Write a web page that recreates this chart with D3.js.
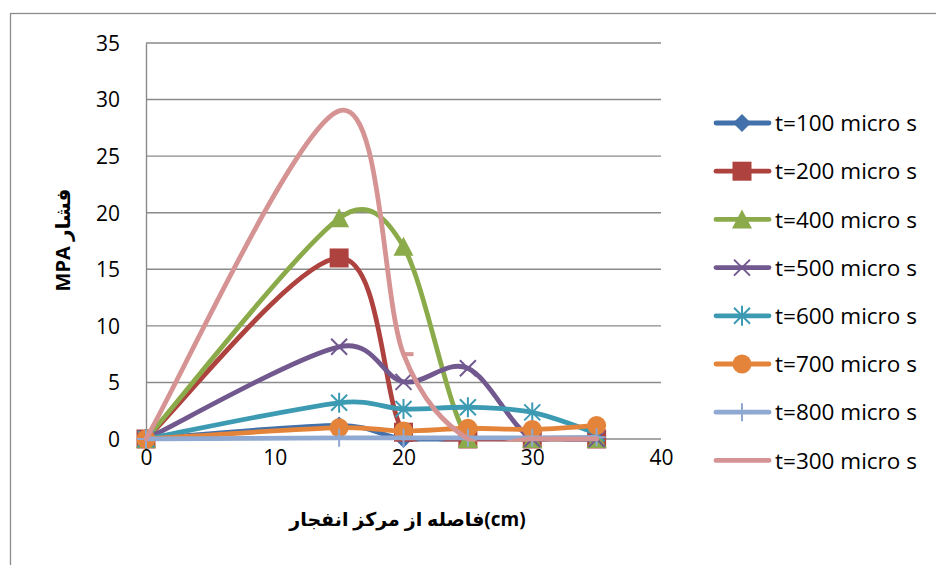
<!DOCTYPE html>
<html>
<head>
<meta charset="utf-8">
<script src="https://cdn.jsdelivr.net/npm/d3@7"></script>
<style>
  html, body { margin: 0; padding: 0; background: #fff; }
  svg { display: block; }
  text { font-family: "Open Sans", "DejaVu Sans", sans-serif; fill: #000; }
</style>
</head>
<body>
<svg id="chart" width="936" height="565"></svg>
<script>
// Distance from the blast centre (cm)
const distances = [0, 15, 20, 25, 30, 35];

// Pressure (MPa) at each distance, one array per time step
const t100 = [0, 1.2, 0, 0, 0, 0];
const t200 = [0, 16, 0.6, 0, 0, 0];
const t400 = [0, 19.5, 17, 0, 0, 0];
const t500 = [0, 8.15, 5.05, 6.25, 0, 0];
const t600 = [0, 3.2, 2.65, 2.8, 2.35, 0.5];
const t700 = [0, 1.0, 0.7, 0.95, 0.85, 1.2];
const t800 = [0, 0.1, 0.1, 0.1, 0.1, 0.15];
const t300 = [0, 29, 7.5, 0, 0, 0];

const seriesNames = [
  "t=100 micro s", "t=200 micro s", "t=400 micro s", "t=500 micro s",
  "t=600 micro s", "t=700 micro s", "t=800 micro s", "t=300 micro s"
];

const xTicks = [0, 10, 20, 30, 40];
const yTicks = [0, 5, 10, 15, 20, 25, 30, 35];

const xTitle = "فاصله از مرکز انفجار(cm)";
const yTitle = "MPA فشار";

const seriesValues = [t100, t200, t400, t500, t600, t700, t800, t300];
const colors = ["#4270AA", "#AE423F", "#8BAA4A", "#71588F", "#3C9BB3", "#E3843A", "#8FA9D2", "#D59393"];
const markers = ["diamond", "square", "triangle", "x", "asterisk", "circle", "plus", "none"];

const series = seriesNames.map((name, i) => ({
  name,
  color: colors[i],
  marker: markers[i],
  points: distances.map((d, j) => ({ x: d, y: seriesValues[i][j] }))
}));

const svg = d3.select("#chart");

// outer chart frame
svg.append("rect")
  .attr("x", 10.5).attr("y", 13.5)
  .attr("width", 960).attr("height", 600)
  .attr("fill", "none").attr("stroke", "#8c8c8c").attr("stroke-width", 1.3);

const plot = { left: 146, right: 661, top: 43, bottom: 439 };

const x = d3.scaleLinear().domain([0, 40]).range([plot.left, plot.right]);
const y = d3.scaleLinear().domain([0, 35]).range([plot.bottom, plot.top]);

// lines are clipped to the plot area; markers are not
svg.append("defs").append("clipPath").attr("id", "plot-clip")
  .append("rect")
  .attr("x", plot.left - 3).attr("y", plot.top - 5)
  .attr("width", plot.right - plot.left + 3)
  .attr("height", plot.bottom - plot.top + 7.5);

// horizontal gridlines
svg.append("g")
  .selectAll("line")
  .data(yTicks)
  .join("line")
  .attr("x1", plot.left).attr("x2", plot.right)
  .attr("y1", d => y(d)).attr("y2", d => y(d))
  .attr("stroke", "#8a8a8a").attr("stroke-width", 1.4);

// value axis
const yAxis = d3.axisLeft(y).tickValues(yTicks).tickSize(0).tickPadding(26);
const gy = svg.append("g").attr("transform", `translate(${plot.left},0)`).call(yAxis);
gy.select(".domain").attr("stroke", "#8a8a8a").attr("stroke-width", 1.4);
gy.selectAll("text").style("font-size", "21px").attr("dy", "0.35em");

// distance axis
const xAxis = d3.axisBottom(x).tickValues(xTicks).tickSize(0).tickPadding(24);
const gx = svg.append("g").attr("transform", `translate(0,${plot.bottom})`).call(xAxis);
gx.select(".domain").remove();
gx.selectAll("text").style("font-size", "21px").attr("dy", "0.1em");

// axis titles
svg.append("text")
  .attr("x", (plot.left + plot.right) / 2 + 4)
  .attr("y", 526)
  .attr("text-anchor", "middle")
  .style("font-size", "19px").style("font-weight", "bold")
  .text(xTitle);

svg.append("text")
  .attr("transform", "translate(70,240) rotate(-90)")
  .attr("text-anchor", "middle")
  .style("font-size", "20px").style("font-weight", "bold")
  .text(yTitle);

// marker shapes
function drawMarker(g, type, color, cx, cy) {
  const s = 9;
  if (type === "diamond") {
    g.append("path").attr("d", `M${cx},${cy - s}L${cx + s},${cy}L${cx},${cy + s}L${cx - s},${cy}Z`)
      .attr("fill", color);
  } else if (type === "square") {
    g.append("rect").attr("x", cx - 9.5).attr("y", cy - 9.5).attr("width", 19).attr("height", 19)
      .attr("fill", color);
  } else if (type === "triangle") {
    g.append("path").attr("d", `M${cx},${cy - 10}L${cx + 10},${cy + 9}L${cx - 10},${cy + 9}Z`)
      .attr("fill", color);
  } else if (type === "circle") {
    g.append("circle").attr("cx", cx).attr("cy", cy).attr("r", 9.5).attr("fill", color);
  } else if (type === "x") {
    g.append("path").attr("d", `M${cx - 8},${cy - 8}L${cx + 8},${cy + 8}M${cx - 8},${cy + 8}L${cx + 8},${cy - 8}`)
      .attr("stroke", color).attr("stroke-width", 2);
  } else if (type === "asterisk") {
    g.append("path").attr("d",
      `M${cx - 8},${cy - 8}L${cx + 8},${cy + 8}M${cx - 8},${cy + 8}L${cx + 8},${cy - 8}M${cx},${cy - 10}L${cx},${cy + 10}`)
      .attr("stroke", color).attr("stroke-width", 2);
  } else if (type === "plus") {
    g.append("path").attr("d", `M${cx},${cy - 9}L${cx},${cy + 9}M${cx - 9},${cy}L${cx + 9},${cy}`)
      .attr("stroke", color).attr("stroke-width", 2);
  }
}

// Smoothed line: Bezier segments with handles of 1/6 of the neighbour chord,
// each handle capped at half of its own segment length.
function smoothPath(points) {
  const pts = points.map(d => [x(d.x), y(d.y)]);
  const p = d3.path();
  p.moveTo(pts[0][0], pts[0][1]);
  const cap = (v, maxLen) => {
    const len = Math.hypot(v[0], v[1]);
    return len > maxLen && len > 0 ? [v[0] * maxLen / len, v[1] * maxLen / len] : v;
  };
  for (let i = 0; i < pts.length - 1; i++) {
    const p0 = pts[i - 1] || pts[i];
    const p1 = pts[i];
    const p2 = pts[i + 1];
    const p3 = pts[i + 2] || pts[i + 1];
    const half = Math.hypot(p2[0] - p1[0], p2[1] - p1[1]) / 2;
    const t1 = cap([(p2[0] - p0[0]) / 6, (p2[1] - p0[1]) / 6], half);
    const t2 = cap([(p3[0] - p1[0]) / 6, (p3[1] - p1[1]) / 6], half);
    p.bezierCurveTo(p1[0] + t1[0], p1[1] + t1[1], p2[0] - t2[0], p2[1] - t2[1], p2[0], p2[1]);
  }
  return p.toString();
}

const seriesLayer = svg.append("g");
series.forEach(s => {
  const g = seriesLayer.append("g");
  g.append("path")
    .attr("d", smoothPath(s.points))
    .attr("clip-path", "url(#plot-clip)")
    .attr("fill", "none")
    .attr("stroke", s.color)
    .attr("stroke-width", 4.8)
    .attr("stroke-linecap", "round")
    .attr("stroke-linejoin", "round");
  s.points.forEach(p => drawMarker(g, s.marker, s.color, x(p.x), y(p.y)));
});

// short dash left on the t=300 curve at 20 cm
const t300Series = series[7];
const dashPt = t300Series.points[2];
svg.append("line")
  .attr("x1", x(dashPt.x)).attr("x2", x(dashPt.x) + 10)
  .attr("y1", y(dashPt.y)).attr("y2", y(dashPt.y))
  .attr("stroke", t300Series.color).attr("stroke-width", 4);

// legend
const legend = svg.append("g");
series.forEach((s, i) => {
  const cy = 123 + i * 48.2;
  const g = legend.append("g");
  g.append("line")
    .attr("x1", 716).attr("x2", 769)
    .attr("y1", cy).attr("y2", cy)
    .attr("stroke", s.color).attr("stroke-width", 4.8).attr("stroke-linecap", "round");
  drawMarker(g, s.marker, s.color, 742, cy);
  g.append("text")
    .attr("x", 775).attr("y", cy)
    .attr("dy", "0.36em")
    .style("font-size", "22.5px")
    .text(s.name);
});
</script>
</body>
</html>
